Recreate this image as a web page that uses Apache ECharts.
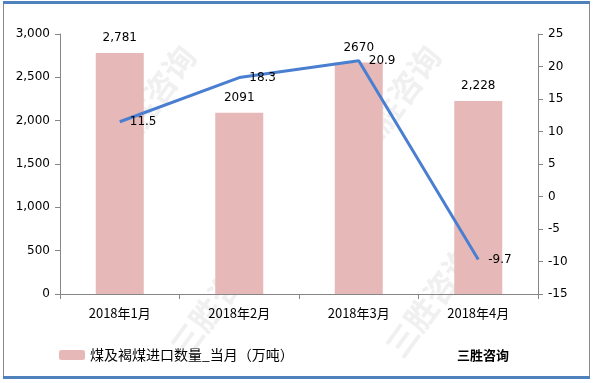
<!DOCTYPE html>
<html><head><meta charset="utf-8">
<script src="https://cdn.jsdelivr.net/npm/echarts@6/dist/echarts.min.js"></script>
<style>html,body{margin:0;padding:0;background:#fff}#c{width:594px;height:383px}</style>
</head><body><div id="c"></div>
<script>
const categories = ['2018年1月','2018年2月','2018年3月','2018年4月'];
const barValues = [2781, 2091, 2670, 2228];
const barLabels = ['2,781','2091','2670','2,228'];
const lineValues = [11.5, 18.3, 20.9, -9.7];
const seriesName = '煤及褐煤进口数量_当月（万吨）';

const chart = echarts.init(document.getElementById('c'));
const font = '"DejaVu Sans", "Noto Sans CJK SC", sans-serif';
const cjk = '"Noto Sans CJK SC", sans-serif';
function wm(x, y) {
  return [
    {type:'text', left:x, top:y, rotation:Math.PI*0.3, z:-1,
     style:{text:'三胜咨询', font:'bold 32px "Noto Sans CJK SC"', fill:'rgba(150,150,150,0.14)'}},
  ];
}
chart.setOption({
  animation:false,
  textStyle:{fontFamily:font},
  graphic:[
    {type:'rect', shape:{x:3.5,y:2.5,width:586,height:375}, style:{fill:'none', stroke:'#8a8a8a', lineWidth:1}},
    {type:'line', shape:{x1:3,y1:2.5,x2:590,y2:2.5}, style:{stroke:'#4f81bd', lineWidth:3}},
    {type:'line', shape:{x1:3,y1:377.5,x2:590,y2:377.5}, style:{stroke:'#4f81bd', lineWidth:3}},
    {type:'text', left:457, top:349, style:{text:'三胜咨询', font:'bold 13px "Noto Sans CJK SC"', fill:'#000'}},
    ...wm(100, 40), ...wm(165, 240), ...wm(345, 40), ...wm(380, 240)
  ],
  grid:{left:60, right:56, top:34, bottom:89},
  legend:{
    data:[seriesName], left:54, top:343, itemWidth:26, itemHeight:10, itemGap:3,
    textStyle:{fontFamily:cjk, fontSize:14, color:'#000'}
  },
  xAxis:{
    type:'category', data:categories,
    axisLine:{lineStyle:{color:'#868686'}},
    axisTick:{show:true, length:5, lineStyle:{color:'#868686'}},
    axisLabel:{color:'#000', fontFamily:cjk, fontSize:13, margin:13}
  },
  yAxis:[
    {type:'value', min:0, max:3000, interval:500,
     axisLine:{show:true, lineStyle:{color:'#868686'}},
     axisTick:{show:true, inside:false, length:5, lineStyle:{color:'#868686'}},
     splitLine:{show:false},
     axisLabel:{color:'#000', fontSize:12, margin:10, formatter:v=>v.toLocaleString('en-US')}},
    {type:'value', min:-15, max:25, interval:5, position:'right',
     axisLine:{show:true, lineStyle:{color:'#868686'}},
     axisTick:{show:true, length:5, lineStyle:{color:'#868686'}},
     splitLine:{show:false},
     axisLabel:{color:'#000', fontSize:12, margin:10}}
  ],
  series:[
    {name:seriesName, type:'bar', data:barValues, barWidth:48,
     itemStyle:{color:'#e6b9b8'},
     label:{show:true, position:'top', distance:9, color:'#000', fontSize:12,
            formatter:p=>barLabels[p.dataIndex]}},
    {name:'增速', type:'line', yAxisIndex:1, data:lineValues, symbol:'circle', symbolSize:2,
     showSymbol:true, z:5,
     itemStyle:{color:'rgba(0,0,0,0)', borderWidth:0},
     lineStyle:{color:'#4a7ed0', width:3},
     label:{show:true, position:'right', distance:9, color:'#000', fontSize:12, offset:[0,3]},
     labelLayout:{hideOverlap:false}}
  ]
});
</script></body></html>
